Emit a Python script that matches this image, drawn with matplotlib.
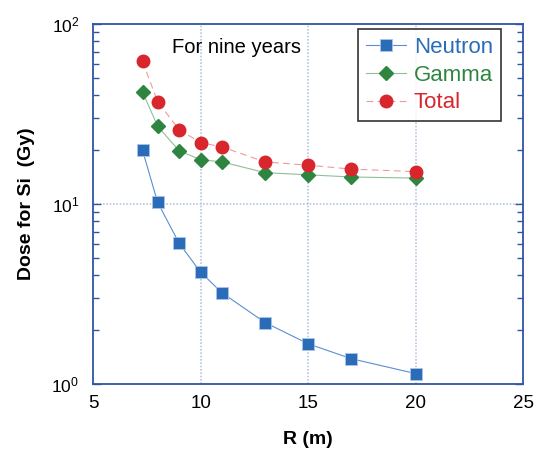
import matplotlib.pyplot as plt
from matplotlib.ticker import LogLocator, NullFormatter

plt.rcParams['font.family'] = ['Liberation Sans', 'DejaVu Sans']
plt.rcParams['mathtext.fontset'] = 'custom'
plt.rcParams['mathtext.rm'] = 'Liberation Sans'
plt.rcParams['mathtext.it'] = 'Liberation Sans'
plt.rcParams['mathtext.bf'] = 'Liberation Sans:bold'

r_m = [7.3, 8, 9, 10, 11, 13, 15, 17, 20]
neutron = [19.8, 10.2, 6.05, 4.17, 3.2, 2.19, 1.67, 1.38, 1.14]
gamma = [41.9, 27.0, 19.7, 17.6, 17.1, 14.9, 14.5, 14.1, 13.9]
total = [61.8, 37.0, 25.8, 21.9, 20.7, 17.1, 16.4, 15.6, 15.1]

blue = '#2b6cb8'
green = '#2e8540'
red = '#d8262c'
frame = '#2f55a4'
grid_c = '#b8c6e4'

fig = plt.figure(figsize=(5.35, 4.5), dpi=100)
ax = fig.add_axes([0.174, 0.147, 0.804, 0.8])

ax.plot(r_m, neutron, color='#5b8fd0', lw=0.8, marker='s', ms=8.5,
        mfc=blue, mec='#a9c4e8', mew=0.6, label='Neutron', zorder=3)
ax.plot(r_m, gamma, color='#8fbf99', lw=0.8, marker='D', ms=7,
        mfc=green, mec=green, label='Gamma', zorder=3)
ax.plot(r_m, total, color='#ef9a9a', lw=0.8, ls=(0, (6, 4)), marker='o', ms=9,
        mfc=red, mec=red, label='Total', zorder=3)

ax.set_yscale('log')
ax.set_xlim(5, 25)
ax.set_ylim(1, 100)
ax.set_xticks([5, 10, 15, 20, 25])
ax.yaxis.set_major_locator(LogLocator(base=10, numticks=5))
ax.yaxis.set_minor_locator(LogLocator(base=10, subs=range(2, 10), numticks=20))
ax.yaxis.set_minor_formatter(NullFormatter())

for x in [10, 15, 20]:
    ax.axvline(x, color=grid_c, lw=1.2, ls=(0, (1, 1)), zorder=1)
ax.axhline(10, color=grid_c, lw=1.2, ls=(0, (1, 1)), zorder=1)

for s in ax.spines.values():
    s.set_color(frame)
    s.set_linewidth(1.3)

ax.tick_params(axis='x', which='both', length=0, labelsize=13.5, pad=8)
ax.tick_params(axis='y', which='major', direction='in', length=6, width=1,
               color=frame, labelsize=12.5, right=True, pad=10)
ax.tick_params(axis='y', which='minor', direction='in', length=4, width=1,
               color=frame, right=True)

ax.set_xlabel('R (m)', fontsize=14, fontweight='bold', labelpad=14)
ax.set_ylabel('Dose for Si  (Gy)', fontsize=14, fontweight='bold', labelpad=12)

ax.text(0.183, 0.935, 'For nine years', transform=ax.transAxes,
        fontsize=14.5, ha='left', va='center')

leg = ax.legend(loc='upper right', bbox_to_anchor=(0.958, 0.997), fontsize=16,
                frameon=True, fancybox=False, edgecolor='black',
                handlelength=1.8, borderpad=0.35, labelspacing=0.3,
                handletextpad=0.35, borderaxespad=0.2)
leg.get_frame().set_linewidth(1.2)
for text, c in zip(leg.get_texts(), [blue, green, red]):
    text.set_color(c)

fig.savefig('out.png', dpi=100)
